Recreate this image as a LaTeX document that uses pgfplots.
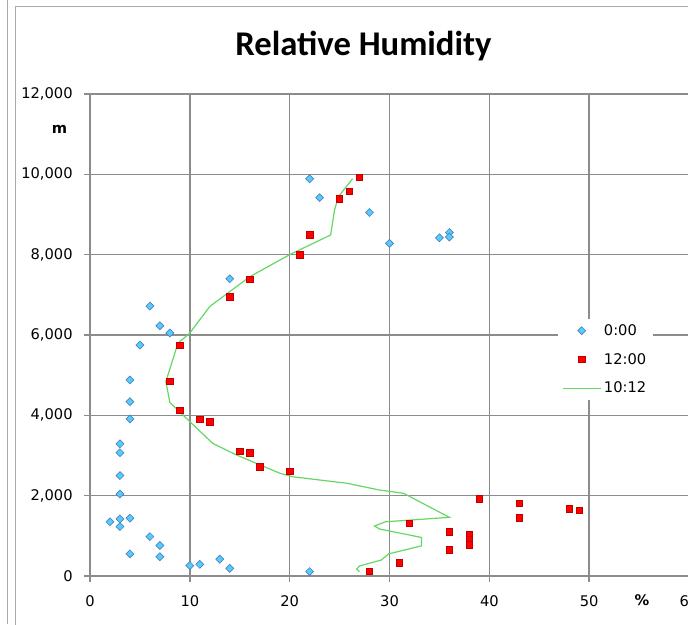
\documentclass[border=0pt]{standalone}
\usepackage{fontspec}
\setmainfont{DejaVu Sans}
\newfontfamily\titlefont{Carlito}
\usepackage{pgfplots}
\pgfplotsset{compat=1.18}

\definecolor{gridgray}{RGB}{140,140,140}
\definecolor{framegray}{RGB}{170,170,170}
\definecolor{diafill}{RGB}{85,205,250}
\definecolor{diaedge}{RGB}{79,129,189}
\definecolor{sqfill}{RGB}{255,0,0}
\definecolor{sqedge}{RGB}{192,0,0}
\definecolor{linegreen}{RGB}{100,215,100}

\begin{document}
\begin{tikzpicture}
\useasboundingbox (0,0) rectangle (516pt,468pt);
\clip (0,0) rectangle (516pt,468pt);
% frame of the chart area (image cropped on the right)
\draw[framegray, line width=0.8pt] (5.5pt,0) -- (5.5pt,470pt);
\draw[framegray, line width=0.8pt] (11.8pt,-2pt) -- (11.8pt,463pt) -- (530pt,463pt);

\begin{axis}[
  at={(67.5pt,36pt)}, anchor=south west,
  scale only axis, width=449.25pt, height=361.5pt,
  xmin=0, xmax=60, ymin=0, ymax=12000,
  xtick={0,10,...,60}, ytick={0,2000,...,12000},
  xtick pos=left, ytick pos=left,
  grid=major, major grid style={gridgray, line width=1.2pt},
  axis line style={gridgray, line width=1.2pt},
  tick style={gridgray, line width=1.2pt},
  tick align=outside, major tick length=4.5pt,
  scaled y ticks=false,
  /pgf/number format/assume math mode=true,
  tick label style={font=\fontsize{11}{13}\selectfont, black},
  yticklabel style={/pgf/number format/1000 sep={,}, xshift=-5pt},
  xticklabel style={yshift=-7pt},
  legend style={at={(0.8606,0.449)}, anchor=center, draw=none, fill=white,
    font=\fontsize{11}{13}\selectfont, row sep=8pt},
  legend cell align=left,
  legend image code/.code={\draw[mark repeat=2,mark phase=2,#1] plot coordinates {(0pt,0pt) (14.25pt,0pt) (28.5pt,0pt)};},
]
\addplot[only marks, mark=square*, mark size=2.1pt,
  mark options={rotate=45, fill=diafill, draw=diaedge, line width=0.5pt}]
  coordinates {
  (22,9890) (23,9420) (28,9050) (30,8280) (35,8420) (36,8550) (36,8440)
  (14,7400) (6,6720) (7,6230) (8,6050) (5,5750) (4,4880) (4,4340) (4,3910)
  (3,3290) (3,3070) (3,2500) (3,2040) (3,1420) (4,1440) (2,1350) (3,1230)
  (6,980) (7,760) (4,550) (7,480) (11,290) (13,420) (10,260) (14,190) (22,110)
  };
\addlegendentry{0:00}
\addplot[only marks, mark=square*, mark size=2.4pt,
  mark options={fill=sqfill, draw=sqedge, line width=0.5pt}]
  coordinates {
  (27,9930) (26,9570) (25,9390) (22,8490) (21,8000) (16,7380) (14,6950)
  (9,5750) (8,4850) (9,4120) (11,3900) (12,3840) (15,3110) (16,3070)
  (17,2720) (20,2610) (39,1920) (43,1810) (43,1450) (48,1670) (49,1630)
  (32,1310) (36,1100) (36,650) (38,1020) (38,900) (38,780) (31,330) (28,110)
  };
\addlegendentry{12:00}
\addplot[linegreen, line width=0.9pt, no marks]
  coordinates {
  (26.3,9890) (24.9,9450) (24.5,9120) (24.1,8490) (20,8000) (16,7450)
  (12,6710) (10,6050) (8.8,5790) (7.6,4840) (8,4320) (9.3,4010)
  (12.3,3300) (14.7,3010) (19,2560) (20.3,2470) (25.7,2310) (29,2140)
  (31.4,2060) (36,1460) (29.6,1350) (28.5,1245) (29,1170) (33.2,960)
  (33.2,750) (29.9,550) (29.2,400) (27,250) (26.7,170) (27,110)
  };
\addlegendentry{10:12}
\end{axis}

\node[anchor=base, font=\titlefont\bfseries\fontsize{26}{30}\selectfont]
  at (272.6pt,426pt) {Relative Humidity};
\node[font=\bfseries\fontsize{11}{13}\selectfont] at (44.6pt,371.3pt) {m};
\node[font=\bfseries\fontsize{11}{13}\selectfont] at (481.5pt,18pt) {\%};
\end{tikzpicture}
\end{document}
